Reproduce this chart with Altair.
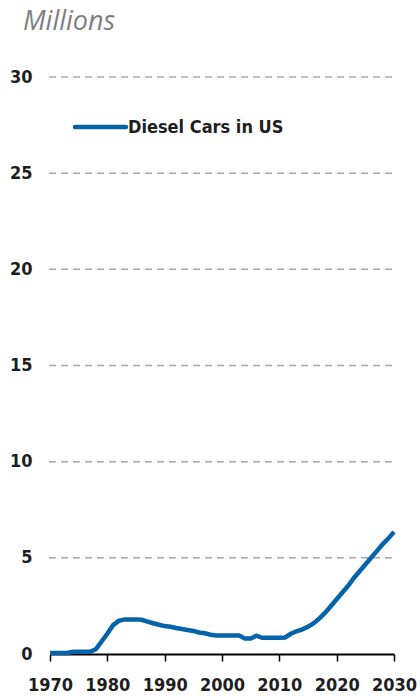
import altair as alt
import pandas as pd

# Diesel cars on the road in the US, millions of vehicles per year
years = list(range(1970, 2031))
diesel_cars = [
    0.05, 0.05, 0.05, 0.05, 0.12, 0.12, 0.12, 0.12, 0.25, 0.65,   # 1970-1979
    1.05, 1.50, 1.72, 1.80, 1.80, 1.80, 1.78, 1.68, 1.60, 1.52,   # 1980-1989
    1.45, 1.42, 1.35, 1.30, 1.25, 1.20, 1.12, 1.08, 1.00, 0.96,   # 1990-1999
    0.96, 0.96, 0.96, 0.96, 0.80, 0.80, 0.95, 0.84, 0.84, 0.84,   # 2000-2009
    0.84, 0.86, 1.05, 1.18, 1.28, 1.42, 1.60, 1.85, 2.15, 2.50,   # 2010-2019
    2.85, 3.20, 3.55, 3.95, 4.30, 4.65, 5.00, 5.35, 5.70, 6.00,   # 2020-2029
    6.35,                                                          # 2030
]
series_name = "Diesel Cars in US"
y_ticks = [0, 5, 10, 15, 20, 25, 30]
x_ticks = [1970, 1980, 1990, 2000, 2010, 2020, 2030]

df = pd.DataFrame({"year": years, "cars": diesel_cars})

BLUE = "#0563aa"
TEXT = "#1e1e1e"
FONT = "DejaVu Sans Condensed"
W, H = 344, 577

x_scale = alt.Scale(domain=[1970, 2030], nice=False, zero=False)
y_scale = alt.Scale(domain=[0, 30], nice=False)

line = alt.Chart(df).mark_line(color=BLUE, strokeWidth=4.5, clip=False).encode(
    x=alt.X("year:Q", scale=x_scale,
            axis=alt.Axis(values=x_ticks, format="d", title=None, grid=False,
                          domainColor="#000", domainWidth=2,
                          tickColor="#000", tickSize=7, tickWidth=1.5,
                          labelFont=FONT, labelFontSize=18,
                          labelFontWeight="bold",
                          labelColor=TEXT, labelPadding=15,
                          labelFlush=False, labelOverlap=False)),
    y=alt.Y("cars:Q", scale=y_scale,
            axis=alt.Axis(values=y_ticks, title=None, domain=False, ticks=False,
                          grid=False, labelFont=FONT, labelFontSize=18,
                          labelFontWeight="bold",
                          labelColor=TEXT, labelPadding=18)),
)

grid_df = pd.DataFrame({"v": y_ticks[1:]})
grid = alt.Chart(grid_df).mark_rule(color="#a6a6a6", strokeWidth=1.5,
                                    strokeDash=[7, 5]).encode(
    y=alt.Y("v:Q", scale=y_scale),
    x=alt.value(-1), x2=alt.value(W - 2),
)

one = pd.DataFrame({"label": [series_name]})
legend_line = alt.Chart(one).mark_rule(color=BLUE, strokeWidth=4.5,
                                       strokeCap="round").encode(
    x=alt.value(25), x2=alt.value(76), y=alt.value(50),
)
legend_text = alt.Chart(one).mark_text(
    align="left", baseline="middle", font=FONT, fontSize=18,
    fontWeight="bold", color=TEXT).encode(
    x=alt.value(78), y=alt.value(51), text="label:N",
)

units = pd.DataFrame({"t": ["Millions"]})
units_text = alt.Chart(units).mark_text(
    align="left", baseline="alphabetic", font="Open Sans", fontStyle="italic",
    fontSize=27, color="#7f7f7f").encode(
    x=alt.value(-27), y=alt.value(-47), text="t:N",
)

chart = alt.layer(grid, line, legend_line, legend_text, units_text).properties(
    width=W, height=H,
    background="white",
    autosize=alt.AutoSizeParams(type="none"),
    padding={"left": 50, "top": 77, "right": 26, "bottom": 42},
).configure_view(strokeWidth=0)

chart.save("out.html", embed_options={"renderer": "svg", "actions": False})
